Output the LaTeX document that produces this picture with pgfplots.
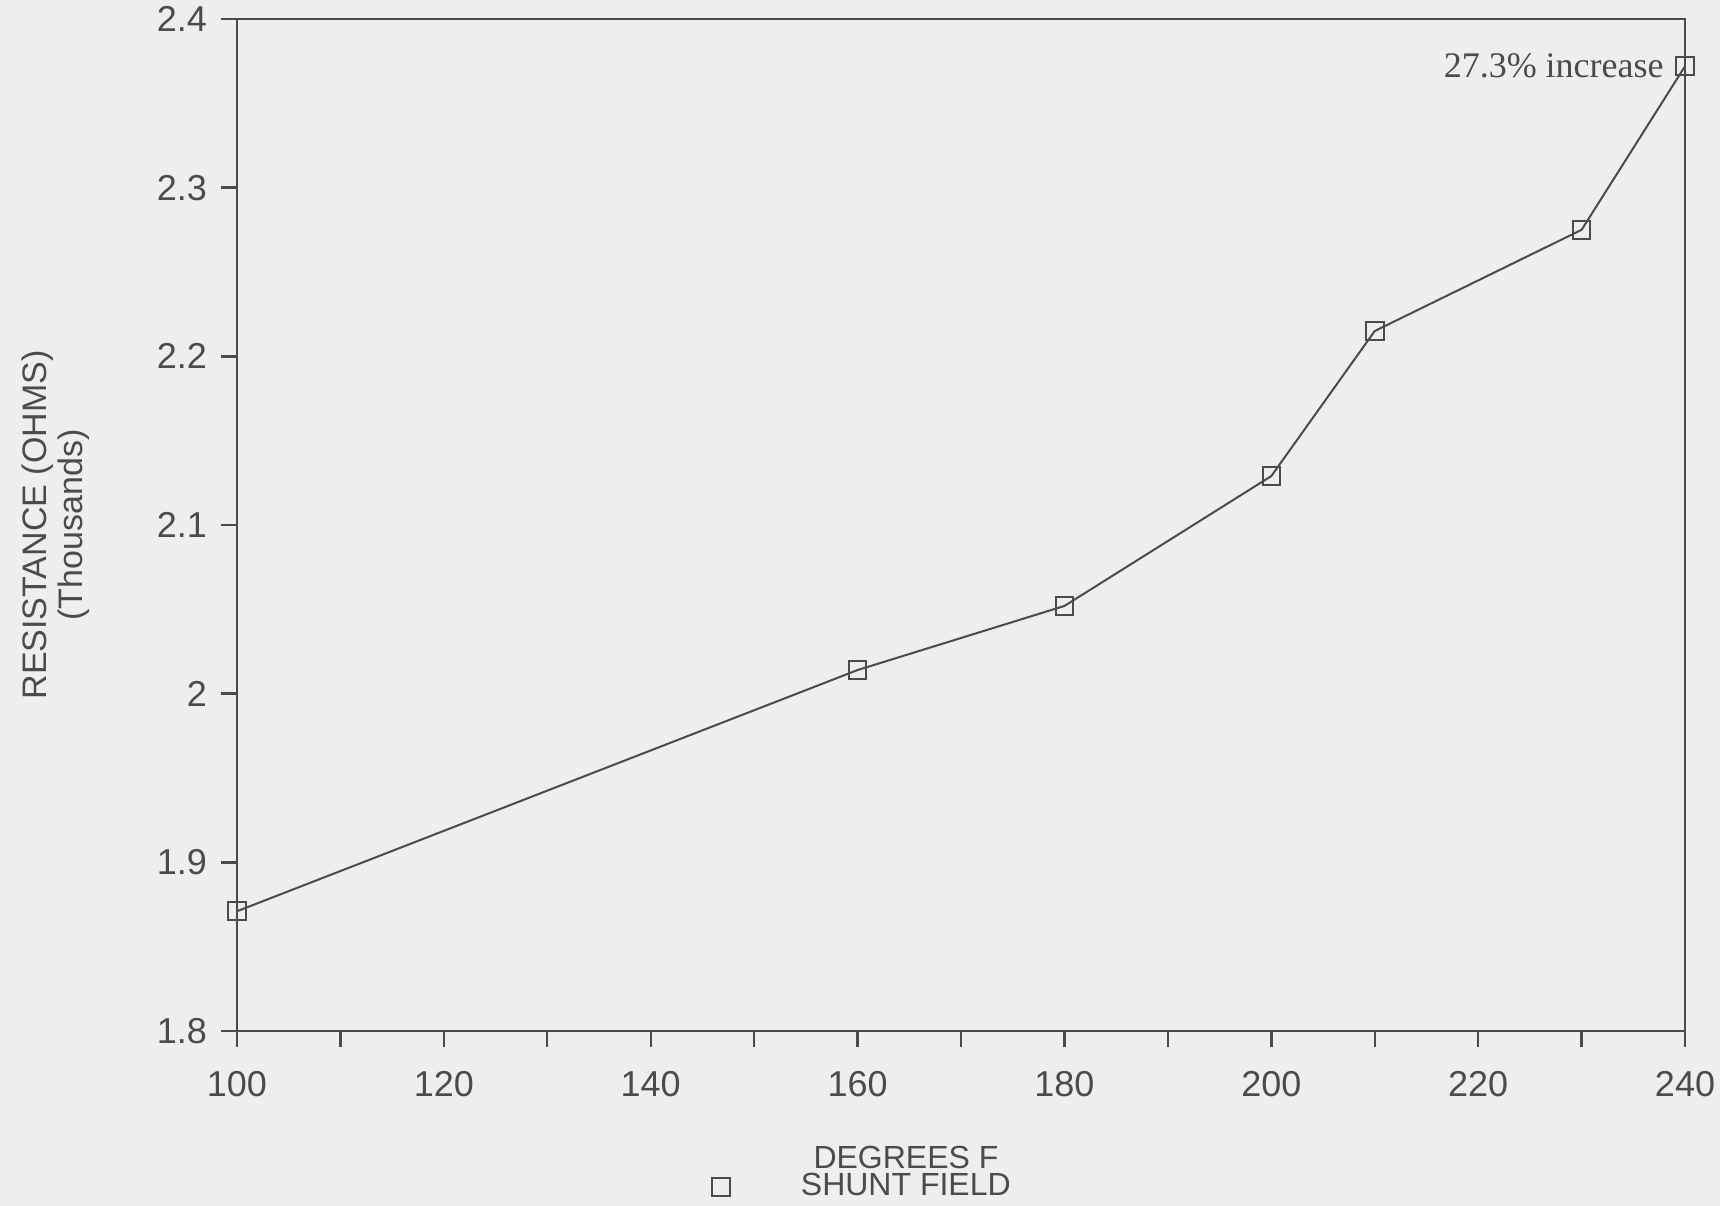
\documentclass[border=0pt]{standalone}
\usepackage{pgfplots}
\pgfplotsset{compat=1.18}
\usepackage{fontspec}
\setmainfont{Liberation Sans}
\newfontfamily\serifann{Liberation Serif}
\definecolor{bg}{RGB}{238,238,238}
\definecolor{ink}{RGB}{75,75,75}
\begin{document}
\begin{tikzpicture}
\useasboundingbox[fill=bg] (-59.25pt,-43.75pt) rectangle (370.75pt,257.75pt);
\begin{axis}[
  at={(0,0)}, anchor=south west,
  scale only axis, width=362pt, height=253pt,
  xmin=100, xmax=240, ymin=1.8, ymax=2.4,
  xtick={100,120,140,160,180,200,220,240},
  minor xtick={110,130,150,170,190,210,230},
  ytick={1.8,1.9,2,2.1,2.2,2.3,2.4},
  tick align=outside, major tick length=4pt, minor tick length=4pt,
  xtick pos=bottom, ytick pos=left,
  axis line style={ink, line width=0.6pt},
  every tick/.style={ink, line width=0.6pt},
  every minor tick/.style={ink, line width=0.6pt},
  tick label style={font=\fontsize{9}{10}\selectfont, text=ink},
  xticklabel style={yshift=-2.5pt},
  /pgf/number format/assume math mode=true,
  xlabel={DEGREES F},
  xlabel style={at={(axis description cs:0.462,0)}, anchor=center, yshift=-31.5pt, font=\fontsize{8}{9}\selectfont, text=ink},
  ylabel={RESISTANCE (OHMS)\\(Thousands)},
  ylabel style={at={(axis description cs:-0.092,0.5)}, anchor=south, align=center, font=\fontsize{8.5}{6.3}\selectfont, text=ink},
  legend style={at={(axis description cs:0.434,-0.154)}, anchor=center, draw=none, fill=none, font=\fontsize{8}{9}\selectfont, text=ink},
  legend image code/.code={\path[draw=none] (0pt,0pt) -- (18pt,0pt); \draw[ink, line width=0.5pt, mark=square, mark size=2.2pt] plot coordinates {(0pt,0pt)};},
]
\addplot[ink, line width=0.5pt, mark=square, mark size=2.2pt, mark options={solid, ink}] coordinates {
  (100,1.871) (160,2.014) (180,2.052) (200,2.129) (210,2.215) (230,2.275) (240,2.372)
};
\addlegendentry{SHUNT FIELD}
\node[anchor=east, font=\serifann\fontsize{9}{10}\selectfont, text=ink, xshift=-1.8pt] at (axis cs:240,2.372) {27.3\% increase};
\end{axis}
\end{tikzpicture}
\end{document}
